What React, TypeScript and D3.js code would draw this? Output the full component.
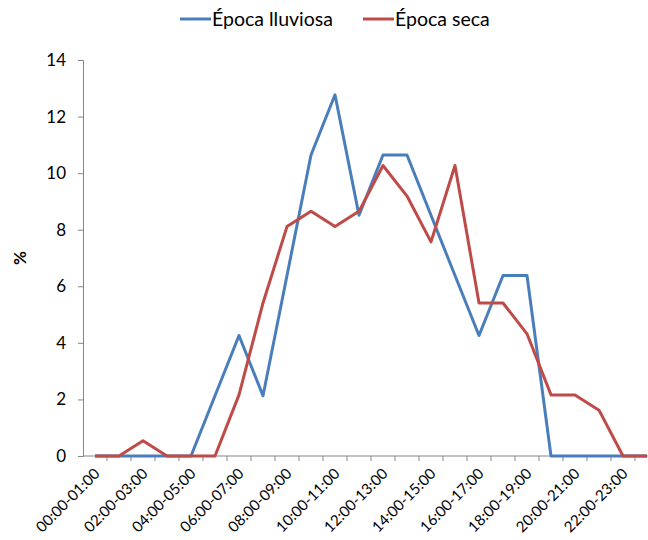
import * as d3 from "d3";
import { useEffect, useRef } from "react";

const WIDTH = 648;
const HEIGHT = 540;
const MARGIN = { top: 60, left: 83, bottom: 84 };
const BAND = 24;

const hours = d3.range(24).map((h) => {
  const p = (n: number) => String(n).padStart(2, "0");
  return `${p(h)}:00-${p(h + 1)}:00`;
});

// % of observations per hour
const lluviosa = [0, 0, 0, 0, 0, 2.13, 4.26, 2.13, 6.38, 10.64, 12.77, 8.51, 10.64, 10.64, 8.51, 6.38, 4.26, 6.38, 6.38, 0, 0, 0, 0, 0];
const seca = [0, 0, 0.54, 0, 0, 0, 2.16, 5.41, 8.11, 8.65, 8.11, 8.65, 10.27, 9.19, 7.57, 10.27, 5.41, 5.41, 4.32, 2.16, 2.16, 1.62, 0, 0];

const yTicks = [0, 2, 4, 6, 8, 10, 12, 14];

const SERIES = [
  { name: "Época lluviosa", values: lluviosa, color: "#4a7ebb" },
  { name: "Época seca", values: seca, color: "#be4b48" },
];

const FONT = "Lato, 'Open Sans', sans-serif";

export default function App() {
  const ref = useRef<SVGSVGElement>(null);

  useEffect(() => {
    const svg = d3.select(ref.current);
    svg.selectAll("*").remove();

    const x = d3
      .scaleBand<string>()
      .domain(hours)
      .range([MARGIN.left, MARGIN.left + BAND * hours.length]);
    const y = d3
      .scaleLinear()
      .domain([0, 14])
      .range([HEIGHT - MARGIN.bottom, MARGIN.top]);

    const cx = (h: string) => x(h)! + x.bandwidth() / 2;

    // y axis
    const yAxis = svg
      .append("g")
      .attr("transform", `translate(${MARGIN.left},0)`)
      .call(d3.axisLeft(y).tickValues(yTicks).tickSize(5).tickPadding(12));
    yAxis.select(".domain").attr("stroke", "#868686");
    yAxis.selectAll(".tick line").attr("stroke", "#868686");
    yAxis
      .selectAll(".tick text")
      .attr("fill", "#000")
      .style("font-family", FONT)
      .style("font-size", "17px");

    // x axis, ticks between categories
    const x0 = y(0);
    const xg = svg.append("g");
    xg.append("line")
      .attr("x1", MARGIN.left)
      .attr("x2", MARGIN.left + BAND * hours.length)
      .attr("y1", x0)
      .attr("y2", x0)
      .attr("stroke", "#868686");
    xg.selectAll("line.tk")
      .data(hours)
      .enter()
      .append("line")
      .attr("class", "tk")
      .attr("x1", (d) => x(d)! + x.bandwidth())
      .attr("x2", (d) => x(d)! + x.bandwidth())
      .attr("y1", x0)
      .attr("y2", x0 + 5)
      .attr("stroke", "#868686");
    xg.selectAll("text")
      .data(hours.filter((_, i) => i % 2 === 0))
      .enter()
      .append("text")
      .attr("transform", (d) => `translate(${cx(d) + 2},${x0 + 15}) rotate(-45)`)
      .attr("text-anchor", "end")
      .attr("dy", "0.35em")
      .style("font-family", FONT)
      .style("font-size", "15px")
      .text((d) => d);

    // y title
    svg
      .append("text")
      .attr("transform", `translate(26,${y(7)}) rotate(-90)`)
      .attr("text-anchor", "middle")
      .style("font-family", FONT)
      .style("font-size", "17px")
      .style("font-weight", "bold")
      .text("%");

    // lines
    const line = d3
      .line<number>()
      .x((_, i) => cx(hours[i]))
      .y((d) => y(d));

    SERIES.forEach((s) => {
      svg
        .append("path")
        .datum(s.values)
        .attr("fill", "none")
        .attr("stroke", s.color)
        .attr("stroke-width", 3)
        .attr("stroke-linejoin", "round")
        .attr("d", line);
    });

    // legend
    const legendX = [180, 363];
    const lg = svg
      .selectAll("g.leg")
      .data(SERIES)
      .enter()
      .append("g")
      .attr("class", "leg")
      .attr("transform", (_, i) => `translate(${legendX[i]},19)`);
    lg.append("line")
      .attr("x1", 0)
      .attr("x2", 31)
      .attr("stroke", (d) => d.color)
      .attr("stroke-width", 3);
    lg.append("text")
      .attr("x", 32)
      .attr("dy", "0.35em")
      .style("font-family", FONT)
      .style("font-size", "19.5px")
      .text((d) => d.name);
  }, []);

  return (
    <svg
      ref={ref}
      width={WIDTH}
      height={HEIGHT}
      style={{ position: "absolute", left: 0, top: 0, background: "#fff" }}
    />
  );
}
